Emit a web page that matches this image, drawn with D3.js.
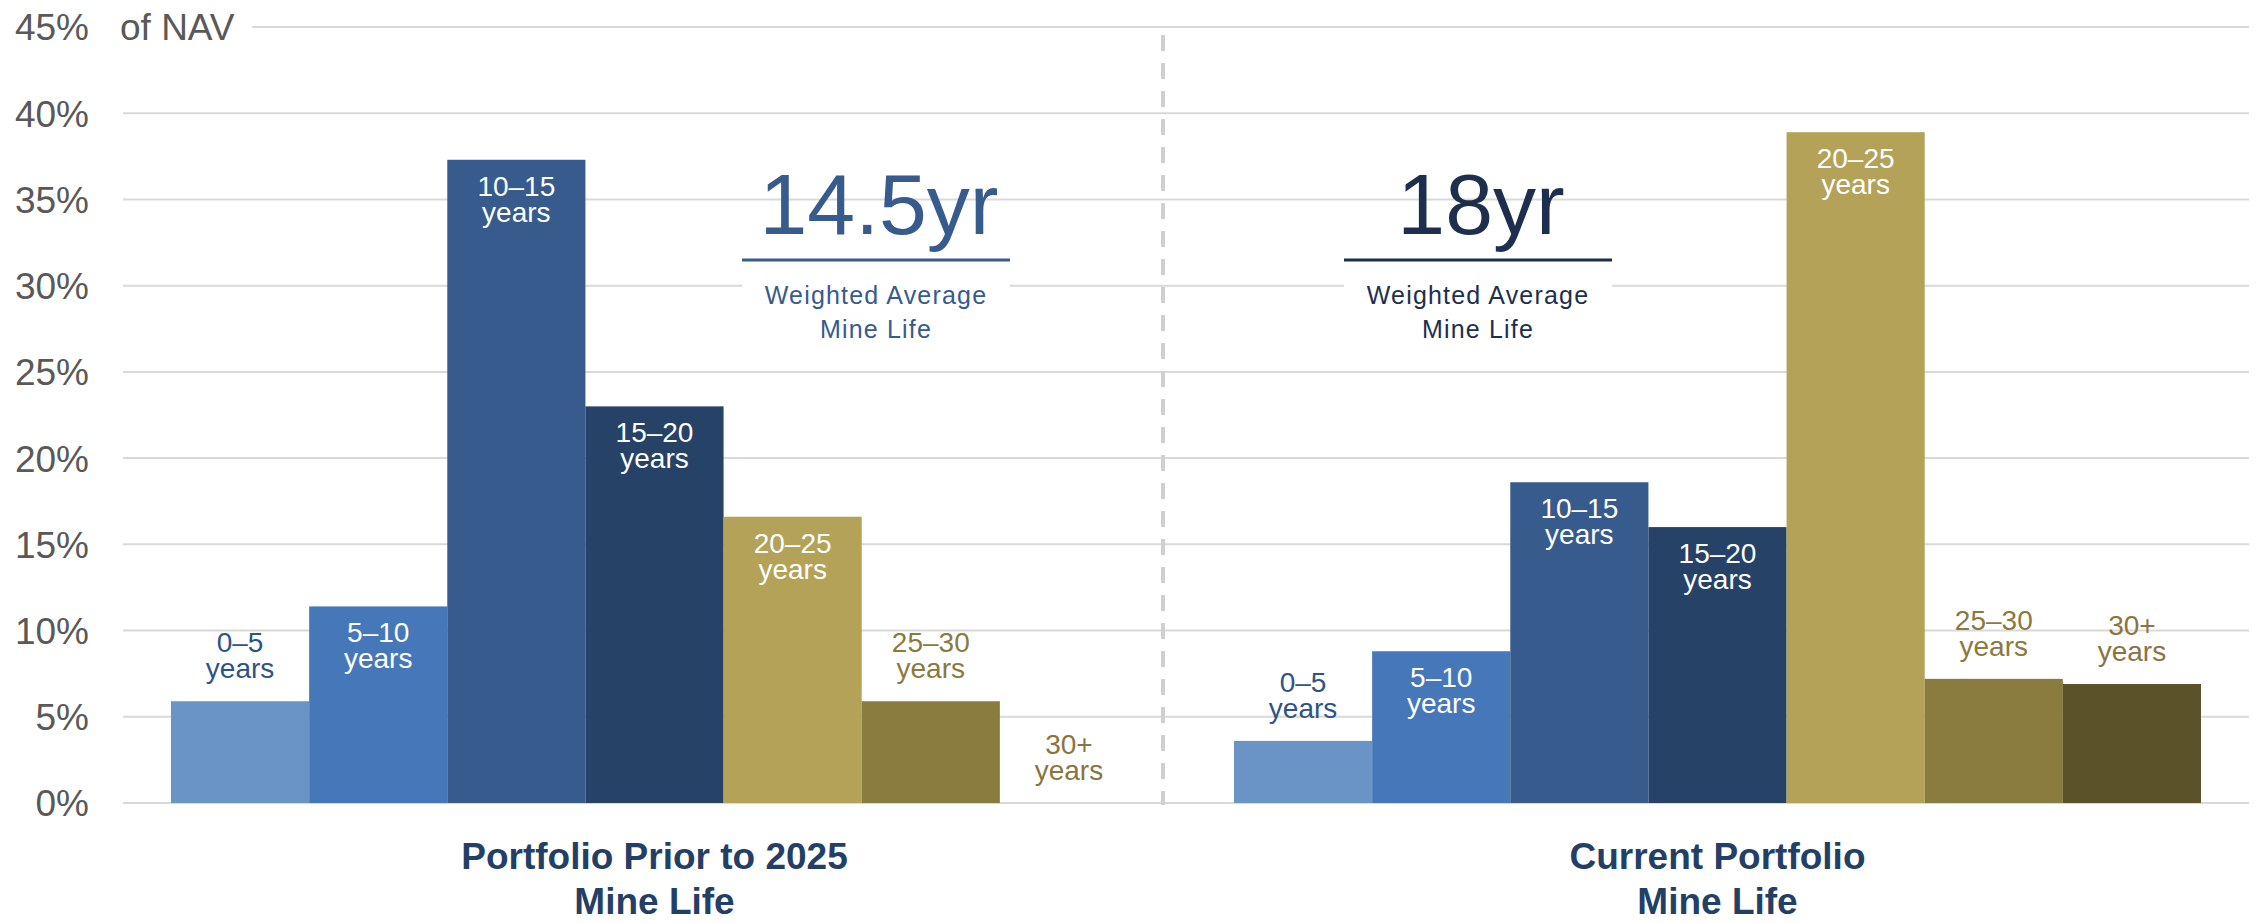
<!DOCTYPE html>
<html>
<head>
<meta charset="utf-8">
<script src="https://cdn.jsdelivr.net/npm/d3@7"></script>
<style>
  html, body { margin: 0; padding: 0; background: #ffffff; }
  svg { display: block; font-family: "Liberation Sans", Arial, Helvetica, sans-serif; }
</style>
</head>
<body>
<svg id="chart" width="2256" height="923"></svg>
<script>
// Mine-life buckets and share of NAV (%) for each portfolio
const categories = ["0–5", "5–10", "10–15", "15–20", "20–25", "25–30", "30+"];
const priorValues = [5.9, 11.4, 37.3, 23.0, 16.6, 5.9, 0];
const currentValues = [3.6, 8.8, 18.6, 16.0, 38.9, 7.2, 6.9];
const groupKeys = ["prior", "current"];
const groupTitles = [["Portfolio Prior to 2025", "Mine Life"], ["Current Portfolio", "Mine Life"]];
const averageLabels = ["14.5yr", "18yr"];
const averageCaption = ["Weighted Average", "Mine Life"];
const tickValues = [0, 5, 10, 15, 20, 25, 30, 35, 40, 45];
const axisUnit = "of NAV";

// Palette
const barColors = ["#6a93c6", "#4678b9", "#365b8c", "#264266", "#b4a259", "#8a7b3f", "#5c5229"];
const outsideLabelColors = ["#2f5386", "#2f5386", "#2f5386", "#264266", "#8a7a40", "#8a7a40", "#8a7440"];
const averageColors = ["#365b8c", "#1d2f4d"];
const titleColor = "#243f66";

const svg = d3.select("#chart");
const plot = { left: 123, right: 2249, top: 27, bottom: 803 };

const y = d3.scaleLinear().domain([0, 45]).range([plot.bottom, plot.top]);
const xGroup = d3.scaleBand().domain(groupKeys).range([plot.left, plot.right]).padding(0);
const xCat = d3.scaleBand().domain(categories).range([48, xGroup.bandwidth() - 48]).padding(0);

const seriesByGroup = { prior: priorValues, current: currentValues };

// Gridlines (the top one starts after the unit label)
const grid = svg.append("g").attr("class", "grid");
grid.selectAll("line").data(tickValues).join("line")
  .attr("x1", d => d === 45 ? 252 : plot.left)
  .attr("x2", plot.right)
  .attr("y1", d => y(d)).attr("y2", d => y(d))
  .attr("stroke", "#d9d9d9").attr("stroke-width", 2);

// Y axis labels
const yAxis = svg.append("g").attr("transform", "translate(89,0)")
  .call(d3.axisLeft(y).tickValues(tickValues).tickFormat(d => d + "%").tickSize(0).tickPadding(0));
yAxis.select(".domain").remove();
yAxis.attr("font-family", "'Liberation Sans', Arial, sans-serif");
yAxis.selectAll("text")
  .attr("font-size", 37).attr("fill", "#595959")
  .attr("x", 0).attr("dy", "0.35em");

svg.append("text").attr("x", 120).attr("y", y(45)).attr("dy", "0.35em")
  .attr("font-size", 37).attr("fill", "#595959").text(axisUnit);

// Divider between the two portfolios
svg.append("line")
  .attr("x1", 1163).attr("x2", 1163)
  .attr("y1", 35).attr("y2", y(0) + 2)
  .attr("stroke", "#d0d0d0").attr("stroke-width", 4)
  .attr("stroke-dasharray", "16 12");

// Bars and bucket labels
groupKeys.forEach((key, gi) => {
  const vals = seriesByGroup[key];
  const data = categories.map((c, i) => ({ cat: c, value: vals[i], i }));
  const g = svg.append("g").attr("transform", `translate(${xGroup(key)},0)`);

  g.selectAll("rect").data(data).join("rect")
    .attr("x", d => xCat(d.cat))
    .attr("width", xCat.bandwidth())
    .attr("y", d => y(d.value))
    .attr("height", d => y(0) - y(d.value))
    .attr("fill", d => barColors[d.i]);

  const labels = g.selectAll("text.bucket").data(data).join("text")
    .attr("class", "bucket")
    .attr("text-anchor", "middle")
    .attr("font-size", 28)
    .attr("fill", d => d.value >= 8 ? "#ffffff" : outsideLabelColors[d.i]);

  labels.each(function(d) {
    const t = d3.select(this);
    const cx = xCat(d.cat) + xCat.bandwidth() / 2;
    const inside = d.value >= 8;
    const y1 = inside ? y(d.value) + 36 : y(d.value) - 49;
    t.append("tspan").attr("x", cx).attr("y", y1).text(d.cat);
    t.append("tspan").attr("x", cx).attr("y", y1 + 26).text("years");
  });

  // Group title
  const cxGroup = xGroup.bandwidth() / 2;
  const title = g.append("text").attr("text-anchor", "middle")
    .attr("font-size", 37).attr("font-weight", "bold").attr("fill", titleColor);
  groupTitles[gi].forEach((line, li) => {
    title.append("tspan").attr("x", cxGroup).attr("y", 869 + li * 45).text(line);
  });
});

// Weighted average call-outs
const calloutCenters = [876, 1478];
averageLabels.forEach((label, i) => {
  const cx = calloutCenters[i];
  const half = 134;
  const g = svg.append("g");
  g.append("rect").attr("x", cx - half).attr("y", 261).attr("width", half * 2).attr("height", 86)
    .attr("fill", "#ffffff");
  g.append("text").attr("x", cx + 3).attr("y", 234).attr("text-anchor", "middle")
    .attr("font-size", 86).attr("fill", averageColors[i]).text(label);
  g.append("line").attr("x1", cx - half).attr("x2", cx + half)
    .attr("y1", 260).attr("y2", 260)
    .attr("stroke", averageColors[i]).attr("stroke-width", 3);
  const cap = g.append("text").attr("text-anchor", "middle")
    .attr("font-size", 25).attr("letter-spacing", 1.2).attr("fill", averageColors[i]);
  averageCaption.forEach((line, li) => {
    cap.append("tspan").attr("x", cx).attr("y", 304 + li * 34).text(line);
  });
});
</script>
</body>
</html>
